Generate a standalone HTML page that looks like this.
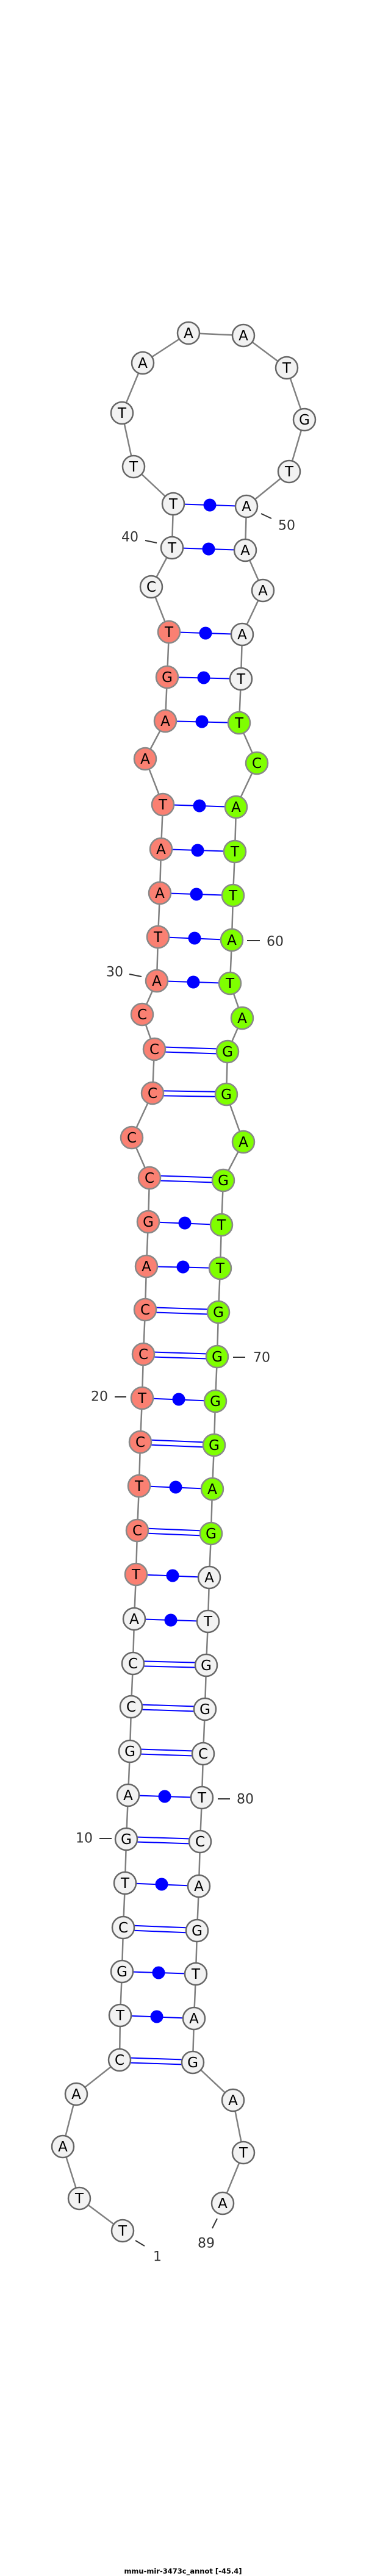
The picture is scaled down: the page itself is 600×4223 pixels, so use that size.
<!DOCTYPE html>
<html><head><meta charset="utf-8"><style>
html,body{margin:0;padding:0;background:#fff;}
svg{display:block;}
.bb{fill:none;stroke:#808080;stroke-width:2.5;}
.p{stroke:#0000ff;stroke-width:2;}
.d{fill:#0000ff;}
.w{fill:#f2f2f2;stroke:#666;stroke-width:2.5;}
.s{fill:#fa8072;stroke:#888;stroke-width:2.5;}
.g{fill:#7fff00;stroke:#888;stroke-width:2.5;}
.t{font-family:"DejaVu Sans","Liberation Sans",sans-serif;font-size:23px;fill:#000;text-anchor:middle;dominant-baseline:central;}
.n{font-family:"DejaVu Sans","Liberation Sans",sans-serif;font-size:22px;fill:#333;text-anchor:middle;dominant-baseline:central;}
.k{stroke:#333;stroke-width:2;}
</style></head><body>
<svg width="600" height="4223" viewBox="0 0 600 4223" xmlns="http://www.w3.org/2000/svg">
<polyline class="bb" points="201,3657 130,3604 103,3519 125,3433 196,3377 197,3304 200,3232 202,3160 205,3087 207,3015 210,2943 213,2871 215,2798 218,2727 220,2654 223,2581 225,2509 228,2436 230,2364 233,2292 235,2220 238,2147 240,2076 243,2003 245,1931 216,1865 250,1792 253,1720 233,1663 257,1608 259,1536 262,1464 264,1392 267,1319 238,1244 271,1182 274,1110 277,1036 248,962 282,898 284,826 219,765 200,677 234,595 309,546 399,550 470,603 499,688 474,773 404,830 402,902 431,968 397,1040 395,1113 392,1185 421,1251 387,1323 385,1396 382,1468 380,1541 377,1612 397,1669 373,1724 371,1794 399,1872 366,1935 363,2008 361,2079 358,2151 356,2224 353,2297 351,2369 348,2441 346,2514 343,2586 341,2658 338,2730 336,2802 333,2875 331,2947 328,3019 326,3092 323,3165 321,3236 318,3309 316,3381 382,3443 399,3529 365,3612"/>
<!-- dot pairs -->
<g class="p">
<line x1="282" y1="898" x2="402" y2="902"/><line x1="284" y1="826" x2="404" y2="830"/>
<line x1="277" y1="1036" x2="397" y2="1040"/><line x1="274" y1="1110" x2="395" y2="1113"/>
<line x1="271" y1="1182" x2="392" y2="1185"/><line x1="267" y1="1319" x2="387" y2="1323"/>
<line x1="264" y1="1392" x2="385" y2="1396"/><line x1="262" y1="1464" x2="382" y2="1468"/>
<line x1="259" y1="1536" x2="380" y2="1541"/><line x1="257" y1="1608" x2="377" y2="1612"/>
<line x1="243" y1="2003" x2="363" y2="2008"/><line x1="240" y1="2076" x2="361" y2="2079"/>
<line x1="233" y1="2292" x2="353" y2="2297"/><line x1="228" y1="2436" x2="348" y2="2441"/>
<line x1="223" y1="2581" x2="343" y2="2586"/><line x1="220" y1="2654" x2="341" y2="2658"/>
<line x1="210" y1="2943" x2="331" y2="2947"/><line x1="205" y1="3087" x2="326" y2="3092"/>
<line x1="200" y1="3232" x2="321" y2="3236"/><line x1="197" y1="3304" x2="318" y2="3309"/>
</g>
<g class="d">
<circle cx="342" cy="900" r="10.5"/><circle cx="344" cy="828" r="10.5"/>
<circle cx="337" cy="1038" r="10.5"/><circle cx="334" cy="1111" r="10.5"/>
<circle cx="331" cy="1183" r="10.5"/><circle cx="327" cy="1321" r="10.5"/>
<circle cx="324" cy="1394" r="10.5"/><circle cx="322" cy="1466" r="10.5"/>
<circle cx="319" cy="1538" r="10.5"/><circle cx="317" cy="1610" r="10.5"/>
<circle cx="303" cy="2005" r="10.5"/><circle cx="300" cy="2077" r="10.5"/>
<circle cx="293" cy="2294" r="10.5"/><circle cx="288" cy="2438" r="10.5"/>
<circle cx="283" cy="2583" r="10.5"/><circle cx="280" cy="2656" r="10.5"/>
<circle cx="270" cy="2945" r="10.5"/><circle cx="265" cy="3089" r="10.5"/>
<circle cx="260" cy="3234" r="10.5"/><circle cx="257" cy="3306" r="10.5"/>
</g>
<!-- double pairs -->
<g class="p">
<line x1="253" y1="1716" x2="373" y2="1720"/><line x1="253" y1="1724" x2="373" y2="1728"/>
<line x1="250" y1="1788" x2="371" y2="1790"/><line x1="250" y1="1796" x2="371" y2="1798"/>
<line x1="245" y1="1927" x2="366" y2="1931"/><line x1="245" y1="1935" x2="366" y2="1939"/>
<line x1="238" y1="2143" x2="358" y2="2147"/><line x1="238" y1="2151" x2="358" y2="2155"/>
<line x1="235" y1="2216" x2="356" y2="2220"/><line x1="235" y1="2224" x2="356" y2="2228"/>
<line x1="230" y1="2360" x2="351" y2="2365"/><line x1="230" y1="2368" x2="351" y2="2373"/>
<line x1="225" y1="2505" x2="346" y2="2510"/><line x1="225" y1="2513" x2="346" y2="2518"/>
<line x1="218" y1="2723" x2="338" y2="2726"/><line x1="218" y1="2731" x2="338" y2="2734"/>
<line x1="215" y1="2794" x2="336" y2="2798"/><line x1="215" y1="2802" x2="336" y2="2806"/>
<line x1="213" y1="2867" x2="333" y2="2871"/><line x1="213" y1="2875" x2="333" y2="2879"/>
<line x1="207" y1="3011" x2="328" y2="3015"/><line x1="207" y1="3019" x2="328" y2="3023"/>
<line x1="202" y1="3156" x2="323" y2="3161"/><line x1="202" y1="3164" x2="323" y2="3169"/>
<line x1="196" y1="3373" x2="316" y2="3377"/><line x1="196" y1="3381" x2="316" y2="3385"/>
</g>
<!-- nodes -->
<g>
<circle class="w" cx="201" cy="3657" r="18"/><text class="t" x="201" y="3658">T</text>
<circle class="w" cx="130" cy="3604" r="18"/><text class="t" x="130" y="3605">T</text>
<circle class="w" cx="103" cy="3519" r="18"/><text class="t" x="103" y="3520">A</text>
<circle class="w" cx="125" cy="3433" r="18"/><text class="t" x="125" y="3434">A</text>
<circle class="w" cx="196" cy="3377" r="18"/><text class="t" x="196" y="3378">C</text>
<circle class="w" cx="197" cy="3304" r="18"/><text class="t" x="197" y="3305">T</text>
<circle class="w" cx="200" cy="3232" r="18"/><text class="t" x="200" y="3233">G</text>
<circle class="w" cx="202" cy="3160" r="18"/><text class="t" x="202" y="3161">C</text>
<circle class="w" cx="205" cy="3087" r="18"/><text class="t" x="205" y="3088">T</text>
<circle class="w" cx="207" cy="3015" r="18"/><text class="t" x="207" y="3016">G</text>
<circle class="w" cx="210" cy="2943" r="18"/><text class="t" x="210" y="2944">A</text>
<circle class="w" cx="213" cy="2871" r="18"/><text class="t" x="213" y="2872">G</text>
<circle class="w" cx="215" cy="2798" r="18"/><text class="t" x="215" y="2799">C</text>
<circle class="w" cx="218" cy="2727" r="18"/><text class="t" x="218" y="2728">C</text>
<circle class="w" cx="220" cy="2654" r="18"/><text class="t" x="220" y="2655">A</text>
<circle class="s" cx="223" cy="2581" r="18"/><text class="t" x="223" y="2582">T</text>
<circle class="s" cx="225" cy="2509" r="18"/><text class="t" x="225" y="2510">C</text>
<circle class="s" cx="228" cy="2436" r="18"/><text class="t" x="228" y="2437">T</text>
<circle class="s" cx="230" cy="2364" r="18"/><text class="t" x="230" y="2365">C</text>
<circle class="s" cx="233" cy="2292" r="18"/><text class="t" x="233" y="2293">T</text>
<circle class="s" cx="235" cy="2220" r="18"/><text class="t" x="235" y="2221">C</text>
<circle class="s" cx="238" cy="2147" r="18"/><text class="t" x="238" y="2148">C</text>
<circle class="s" cx="240" cy="2076" r="18"/><text class="t" x="240" y="2077">A</text>
<circle class="s" cx="243" cy="2003" r="18"/><text class="t" x="243" y="2004">G</text>
<circle class="s" cx="245" cy="1931" r="18"/><text class="t" x="245" y="1932">C</text>
<circle class="s" cx="216" cy="1865" r="18"/><text class="t" x="216" y="1866">C</text>
<circle class="s" cx="250" cy="1792" r="18"/><text class="t" x="250" y="1793">C</text>
<circle class="s" cx="253" cy="1720" r="18"/><text class="t" x="253" y="1721">C</text>
<circle class="s" cx="233" cy="1663" r="18"/><text class="t" x="233" y="1664">C</text>
<circle class="s" cx="257" cy="1608" r="18"/><text class="t" x="257" y="1609">A</text>
<circle class="s" cx="259" cy="1536" r="18"/><text class="t" x="259" y="1537">T</text>
<circle class="s" cx="262" cy="1464" r="18"/><text class="t" x="262" y="1465">A</text>
<circle class="s" cx="264" cy="1392" r="18"/><text class="t" x="264" y="1393">A</text>
<circle class="s" cx="267" cy="1319" r="18"/><text class="t" x="267" y="1320">T</text>
<circle class="s" cx="238" cy="1244" r="18"/><text class="t" x="238" y="1245">A</text>
<circle class="s" cx="271" cy="1182" r="18"/><text class="t" x="271" y="1183">A</text>
<circle class="s" cx="274" cy="1110" r="18"/><text class="t" x="274" y="1111">G</text>
<circle class="s" cx="277" cy="1036" r="18"/><text class="t" x="277" y="1037">T</text>
<circle class="w" cx="248" cy="962" r="18"/><text class="t" x="248" y="963">C</text>
<circle class="w" cx="282" cy="898" r="18"/><text class="t" x="282" y="899">T</text>
<circle class="w" cx="284" cy="826" r="18"/><text class="t" x="284" y="827">T</text>
<circle class="w" cx="219" cy="765" r="18"/><text class="t" x="219" y="766">T</text>
<circle class="w" cx="200" cy="677" r="18"/><text class="t" x="200" y="678">T</text>
<circle class="w" cx="234" cy="595" r="18"/><text class="t" x="234" y="596">A</text>
<circle class="w" cx="309" cy="546" r="18"/><text class="t" x="309" y="547">A</text>
<circle class="w" cx="399" cy="550" r="18"/><text class="t" x="399" y="551">A</text>
<circle class="w" cx="470" cy="603" r="18"/><text class="t" x="470" y="604">T</text>
<circle class="w" cx="499" cy="688" r="18"/><text class="t" x="499" y="689">G</text>
<circle class="w" cx="474" cy="773" r="18"/><text class="t" x="474" y="774">T</text>
<circle class="w" cx="404" cy="830" r="18"/><text class="t" x="404" y="831">A</text>
<circle class="w" cx="402" cy="902" r="18"/><text class="t" x="402" y="903">A</text>
<circle class="w" cx="431" cy="968" r="18"/><text class="t" x="431" y="969">A</text>
<circle class="w" cx="397" cy="1040" r="18"/><text class="t" x="397" y="1041">A</text>
<circle class="w" cx="395" cy="1113" r="18"/><text class="t" x="395" y="1114">T</text>
<circle class="g" cx="392" cy="1185" r="18"/><text class="t" x="392" y="1186">T</text>
<circle class="g" cx="421" cy="1251" r="18"/><text class="t" x="421" y="1252">C</text>
<circle class="g" cx="387" cy="1323" r="18"/><text class="t" x="387" y="1324">A</text>
<circle class="g" cx="385" cy="1396" r="18"/><text class="t" x="385" y="1397">T</text>
<circle class="g" cx="382" cy="1468" r="18"/><text class="t" x="382" y="1469">T</text>
<circle class="g" cx="380" cy="1541" r="18"/><text class="t" x="380" y="1542">A</text>
<circle class="g" cx="377" cy="1612" r="18"/><text class="t" x="377" y="1613">T</text>
<circle class="g" cx="397" cy="1669" r="18"/><text class="t" x="397" y="1670">A</text>
<circle class="g" cx="373" cy="1724" r="18"/><text class="t" x="373" y="1725">G</text>
<circle class="g" cx="371" cy="1794" r="18"/><text class="t" x="371" y="1795">G</text>
<circle class="g" cx="399" cy="1872" r="18"/><text class="t" x="399" y="1873">A</text>
<circle class="g" cx="366" cy="1935" r="18"/><text class="t" x="366" y="1936">G</text>
<circle class="g" cx="363" cy="2008" r="18"/><text class="t" x="363" y="2009">T</text>
<circle class="g" cx="361" cy="2079" r="18"/><text class="t" x="361" y="2080">T</text>
<circle class="g" cx="358" cy="2151" r="18"/><text class="t" x="358" y="2152">G</text>
<circle class="g" cx="356" cy="2224" r="18"/><text class="t" x="356" y="2225">G</text>
<circle class="g" cx="353" cy="2297" r="18"/><text class="t" x="353" y="2298">G</text>
<circle class="g" cx="351" cy="2369" r="18"/><text class="t" x="351" y="2370">G</text>
<circle class="g" cx="348" cy="2441" r="18"/><text class="t" x="348" y="2442">A</text>
<circle class="g" cx="346" cy="2514" r="18"/><text class="t" x="346" y="2515">G</text>
<circle class="w" cx="343" cy="2586" r="18"/><text class="t" x="343" y="2587">A</text>
<circle class="w" cx="341" cy="2658" r="18"/><text class="t" x="341" y="2659">T</text>
<circle class="w" cx="338" cy="2730" r="18"/><text class="t" x="338" y="2731">G</text>
<circle class="w" cx="336" cy="2802" r="18"/><text class="t" x="336" y="2803">G</text>
<circle class="w" cx="333" cy="2875" r="18"/><text class="t" x="333" y="2876">C</text>
<circle class="w" cx="331" cy="2947" r="18"/><text class="t" x="331" y="2948">T</text>
<circle class="w" cx="328" cy="3019" r="18"/><text class="t" x="328" y="3020">C</text>
<circle class="w" cx="326" cy="3092" r="18"/><text class="t" x="326" y="3093">A</text>
<circle class="w" cx="323" cy="3165" r="18"/><text class="t" x="323" y="3166">G</text>
<circle class="w" cx="321" cy="3236" r="18"/><text class="t" x="321" y="3237">T</text>
<circle class="w" cx="318" cy="3309" r="18"/><text class="t" x="318" y="3310">A</text>
<circle class="w" cx="316" cy="3381" r="18"/><text class="t" x="316" y="3382">G</text>
<circle class="w" cx="382" cy="3443" r="18"/><text class="t" x="382" y="3444">A</text>
<circle class="w" cx="399" cy="3529" r="18"/><text class="t" x="399" y="3530">T</text>
<circle class="w" cx="365" cy="3612" r="18"/><text class="t" x="365" y="3613">A</text>
</g>
<!-- number labels -->
<line class="k" x1="428" y1="842" x2="445" y2="850"/><text class="n" x="470" y="862">50</text>
<line class="k" x1="238" y1="886" x2="257" y2="890"/><text class="n" x="213" y="881">40</text>
<line class="k" x1="405" y1="1542" x2="426" y2="1542"/><text class="n" x="451" y="1544">60</text>
<line class="k" x1="212" y1="1597" x2="232" y2="1601"/><text class="n" x="188" y="1594">30</text>
<line class="k" x1="382" y1="2225" x2="402" y2="2225"/><text class="n" x="429" y="2226">70</text>
<line class="k" x1="188" y1="2290" x2="207" y2="2290"/><text class="n" x="163" y="2290">20</text>
<line class="k" x1="357" y1="2949" x2="377" y2="2949"/><text class="n" x="402" y="2950">80</text>
<line class="k" x1="163" y1="3014" x2="183" y2="3014"/><text class="n" x="138" y="3014">10</text>
<line class="k" x1="222" y1="3673" x2="237" y2="3682"/><text class="n" x="258" y="3700">1</text>
<line class="k" x1="356" y1="3637" x2="348" y2="3653"/><text class="n" x="338" y="3678">89</text>
<text x="300" y="4215" font-family="'DejaVu Sans','Liberation Sans',sans-serif" font-size="11.5" font-weight="bold" text-anchor="middle" dominant-baseline="central" fill="#000">mmu-mir-3473c_annot [-45.4]</text>
</svg>
</body></html>
